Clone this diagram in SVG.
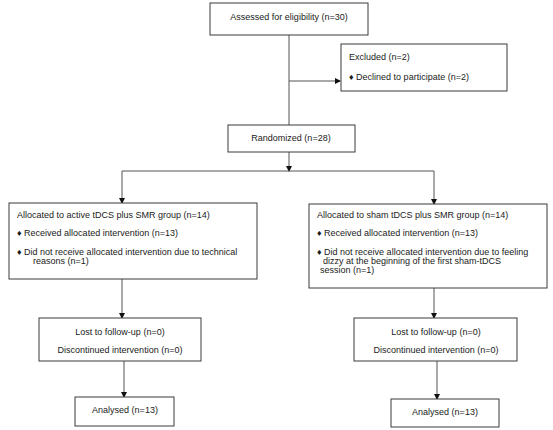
<svg xmlns="http://www.w3.org/2000/svg" width="553" height="430" viewBox="0 0 553 430">
<style>
.box{fill:#fff;stroke:#3a3a3a;stroke-width:1}
.t{font-family:"Liberation Sans",Arial,sans-serif;font-size:9px;fill:#1a1a1a}
.c{text-anchor:middle}
.ln{fill:none;stroke:#555;stroke-width:1}
</style>
<defs>
<marker id="ah" markerWidth="6" markerHeight="6" refX="5" refY="3" orient="auto" markerUnits="userSpaceOnUse">
<path d="M0,0 L6,3 L0,6 Z" fill="#111"/>
</marker>
</defs>
<rect width="553" height="430" fill="#fff"/>
<g id="connectors">
<line class="ln" x1="289" y1="35" x2="289" y2="125"/>
<line class="ln" x1="289" y1="81" x2="340" y2="81" marker-end="url(#ah)"/>
<line class="ln" x1="289" y1="152" x2="289" y2="171" marker-end="url(#ah)"/>
<line class="ln" x1="122" y1="171" x2="434" y2="171"/>
<line class="ln" x1="122" y1="171" x2="122" y2="203" marker-end="url(#ah)"/>
<line class="ln" x1="434" y1="171" x2="434" y2="204" marker-end="url(#ah)"/>
<line class="ln" x1="122" y1="279" x2="122" y2="318" marker-end="url(#ah)"/>
<line class="ln" x1="124" y1="361" x2="124" y2="397" marker-end="url(#ah)"/>
<line class="ln" x1="434" y1="288" x2="434" y2="318" marker-end="url(#ah)"/>
<line class="ln" x1="437" y1="361" x2="437" y2="399" marker-end="url(#ah)"/>
</g>
<g id="assessed">
<rect class="box" x="210" y="3" width="158" height="32"/>
<text class="t c" x="289" y="20">Assessed for eligibility (n=30)</text>
</g>
<g id="excluded">
<rect class="box" x="341" y="44" width="166" height="47"/>
<text class="t" x="349" y="60">Excluded (n=2)</text>
<text class="t" x="349" y="80">♦ Declined to participate (n=2)</text>
</g>
<g id="randomized">
<rect class="box" x="228" y="125" width="127" height="27"/>
<text class="t c" x="291" y="141">Randomized (n=28)</text>
</g>
<g id="active">
<rect class="box" x="9" y="203" width="248" height="76"/>
<text class="t" x="17" y="218">Allocated to active tDCS plus SMR group (n=14)</text>
<text class="t" x="17" y="236">♦ Received allocated intervention (n=13)</text>
<text class="t" x="17" y="255">♦ Did not receive allocated intervention due to technical</text>
<text class="t" x="33" y="264">reasons (n=1)</text>
</g>
<g id="sham">
<rect class="box" x="309" y="204" width="238" height="84"/>
<text class="t" x="317" y="218">Allocated to sham tDCS plus SMR group (n=14)</text>
<text class="t" x="317" y="236">♦ Received allocated intervention (n=13)</text>
<text class="t" x="317" y="255">♦ Did not receive allocated intervention due to feeling</text>
<text class="t" x="323" y="264">dizzy at the beginning of the first sham-tDCS</text>
<text class="t" x="320" y="273">session (n=1)</text>
</g>
<g id="lost-left">
<rect class="box" x="39" y="318" width="162" height="43"/>
<text class="t c" x="120" y="335">Lost to follow-up (n=0)</text>
<text class="t c" x="120" y="353">Discontinued intervention (n=0)</text>
</g>
<g id="analysed-left">
<rect class="box" x="75" y="397" width="99" height="29"/>
<text class="t c" x="125" y="413">Analysed (n=13)</text>
</g>
<g id="lost-right">
<rect class="box" x="354" y="318" width="163" height="43"/>
<text class="t c" x="436" y="335">Lost to follow-up (n=0)</text>
<text class="t c" x="436" y="353">Discontinued intervention (n=0)</text>
</g>
<g id="analysed-right">
<rect class="box" x="391" y="399" width="108" height="28"/>
<text class="t c" x="445" y="415">Analysed (n=13)</text>
</g>
</svg>
